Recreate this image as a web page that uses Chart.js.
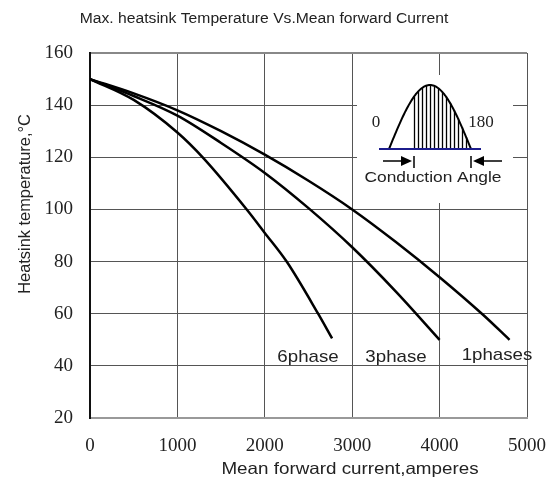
<!DOCTYPE html>
<html>
<head>
<meta charset="utf-8">
<script src="https://cdn.jsdelivr.net/npm/chart.js@4.4.1/dist/chart.umd.min.js"></script>
<style>
  html, body { margin: 0; padding: 0; background: #fff; }
  #wrap { width: 555px; height: 502px; }
</style>
</head>
<body>
<div id="wrap"><canvas id="chart"></canvas></div>
<script>
// curves (current in A, heatsink temperature in °C)
const phase1X = [0, 500, 1000, 1500, 2000, 2500, 3000, 3500, 4000, 4500, 4800];
const phase1Y = [150, 144.5, 138, 130, 121, 111, 100, 87.5, 74, 59.5, 50];
const phase3X = [0, 500, 1000, 1500, 2000, 2500, 3000, 3500, 4000];
const phase3Y = [150, 143.5, 136, 125.5, 114, 100.5, 85.5, 68.5, 50];
const phase6X = [0, 500, 1000, 1300, 1800, 2000, 2250, 2610, 2770];
const phase6Y = [150, 142, 129.5, 119.6, 99.7, 91, 80, 60, 50.5];

const curveNames = ['1phases', '3phase', '6phase'];
const xTicks = [0, 1000, 2000, 3000, 4000, 5000];
const yTicks = [20, 40, 60, 80, 100, 120, 140, 160];

function pts(xs, ys) {
  return xs.map(function(x, i) { return { x: x, y: ys[i] }; });
}

function makeSet(name, xs, ys) {
  return {
    label: name,
    data: pts(xs, ys),
    borderColor: '#000',
    borderWidth: 2.5,
    pointRadius: 0,
    fill: false,
    cubicInterpolationMode: 'monotone'
  };
}

// text in the picture is a little wider than the font, stretch it
function wideText(ctx, txt, x, y, sx) {
  ctx.save();
  ctx.translate(x, y);
  ctx.scale(sx, 1);
  ctx.fillText(txt, 0, 0);
  ctx.restore();
}

// texts, inset drawing
const extras = {
  id: 'extras',
  beforeDatasetsDraw(chart) {
    const ctx = chart.ctx;
    const a = chart.chartArea;
    ctx.save();
    // white box behind the inset
    ctx.fillStyle = '#fff';
    ctx.fillRect(a.left + 267, 75, 156, 128);

    // half sine hump
    const x0 = 389, x1 = 471, base = 149, h = 64;
    const fireX = 414;
    ctx.strokeStyle = '#000';
    ctx.lineWidth = 1.3;
    for (let x = fireX; x <= x1 - 2; x += 4) {
      const yy = base - h * Math.sin(Math.PI * (x - x0) / (x1 - x0));
      ctx.beginPath();
      ctx.moveTo(x + 0.5, base);
      ctx.lineTo(x + 0.5, yy);
      ctx.stroke();
    }
    ctx.lineWidth = 2;
    ctx.beginPath();
    for (let x = x0; x <= x1; x++) {
      const yy = base - h * Math.sin(Math.PI * (x - x0) / (x1 - x0));
      if (x === x0) ctx.moveTo(x, yy); else ctx.lineTo(x, yy);
    }
    ctx.stroke();
    // blue base line
    ctx.strokeStyle = '#1c1c8c';
    ctx.lineWidth = 2;
    ctx.beginPath();
    ctx.moveTo(379, base);
    ctx.lineTo(481, base);
    ctx.stroke();

    // arrows
    ctx.strokeStyle = '#000';
    ctx.fillStyle = '#000';
    ctx.lineWidth = 1.5;
    ctx.beginPath();
    ctx.moveTo(383, 161); ctx.lineTo(404, 161);
    ctx.moveTo(fireX, 156); ctx.lineTo(fireX, 168);
    ctx.moveTo(x1, 156); ctx.lineTo(x1, 168);
    ctx.moveTo(481, 161); ctx.lineTo(502, 161);
    ctx.stroke();
    ctx.beginPath();
    ctx.moveTo(412, 161); ctx.lineTo(401, 156); ctx.lineTo(401, 166); ctx.closePath();
    ctx.fill();
    ctx.beginPath();
    ctx.moveTo(x1 + 2, 161); ctx.lineTo(x1 + 13, 156); ctx.lineTo(x1 + 13, 166); ctx.closePath();
    ctx.fill();

    ctx.fillStyle = '#222';
    ctx.textBaseline = 'middle';
    ctx.textAlign = 'center';
    ctx.font = '17px "Liberation Serif"';
    ctx.fillText('0', 376, 123);
    ctx.fillText('180', 481, 123);
    ctx.font = '15.5px "Liberation Sans"';
    wideText(ctx, 'Conduction Angle', 433, 178, 1.12);
    ctx.restore();
  },
  afterDraw(chart) {
    const ctx = chart.ctx;
    ctx.save();
    ctx.fillStyle = '#222';
    ctx.textBaseline = 'middle';
    ctx.textAlign = 'center';
    ctx.font = '14px "Liberation Sans"';
    wideText(ctx, 'Max. heatsink Temperature Vs.Mean forward Current', 264, 19, 1.12);
    ctx.font = '16.5px "Liberation Sans"';
    wideText(ctx, 'Mean forward current,amperes', 350, 469, 1.14);
    ctx.font = '17px "Liberation Sans"';
    wideText(ctx, curveNames[2], 308, 357, 1.1);
    wideText(ctx, curveNames[1], 396, 357, 1.1);
    wideText(ctx, curveNames[0], 497, 355, 1.1);
    ctx.translate(25, 204);
    ctx.rotate(-Math.PI / 2);
    ctx.font = '16.4px "Liberation Sans"';
    ctx.fillText('Heatsink temperature,°C', 0, 0);
    ctx.restore();
  }
};

new Chart(document.getElementById('chart'), {
  type: 'line',
  data: {
    datasets: [
      makeSet(curveNames[0], phase1X, phase1Y),
      makeSet(curveNames[1], phase3X, phase3Y),
      makeSet(curveNames[2], phase6X, phase6Y)
    ]
  },
  options: {
    responsive: true,
    maintainAspectRatio: false,
    animation: false,
    layout: { padding: { top: 53, right: 28, left: 0, bottom: 0 } },
    plugins: {
      legend: { display: false },
      tooltip: { enabled: false },
      title: { display: false }
    },
    scales: {
      x: {
        type: 'linear',
        min: xTicks[0],
        max: xTicks[xTicks.length - 1],
        afterFit(scale) {
          scale.height = 84;
          scale.paddingLeft = 0;
          scale.paddingRight = 0;
        },
        afterBuildTicks(scale) { scale.ticks = xTicks.map(v => ({ value: v })); },
        grid: { color: '#555', lineWidth: 1, drawTicks: false },
        border: { color: '#999', width: 2 },
        ticks: {
          padding: 17,
          color: '#222',
          font: { family: 'Liberation Serif', size: 19 },
          callback: function(v) { return String(v); }
        }
      },
      y: {
        type: 'linear',
        min: yTicks[0],
        max: yTicks[yTicks.length - 1],
        afterFit(scale) {
          scale.width = 90;
          scale.paddingTop = 0;
          scale.paddingBottom = 0;
        },
        afterBuildTicks(scale) { scale.ticks = yTicks.map(v => ({ value: v })); },
        grid: {
          color: function(c) { return c.index === yTicks.length - 1 ? '#888' : '#555'; },
          lineWidth: function(c) { return c.index === yTicks.length - 1 ? 2 : 1; },
          drawTicks: false
        },
        border: { color: '#111', width: 2 },
        ticks: {
          padding: 17,
          color: '#222',
          font: { family: 'Liberation Serif', size: 19 }
        }
      }
    }
  },
  plugins: [extras]
});
</script>
</body>
</html>
